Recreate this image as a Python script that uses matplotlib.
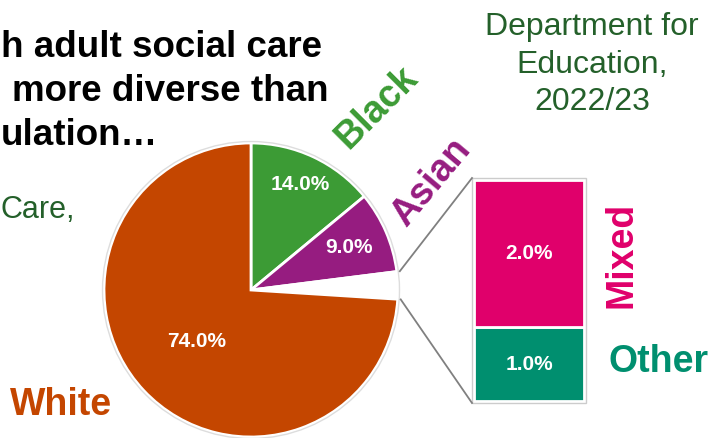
import numpy as np
import matplotlib.pyplot as plt
from matplotlib.patches import Circle

plt.rcParams['font.family'] = ['Liberation Sans', 'DejaVu Sans']

# ethnicity split of the workforce (%)
pie_groups = ['Black', 'Asian', 'Mixed/Other', 'White']
pie_values = [14.0, 9.0, 3.0, 74.0]
bar_groups = ['Other', 'Mixed']
bar_values = [1.0, 2.0]

orange = '#C44600'
green = '#3C9B35'
purple = '#961C80'
pink = '#E0006B'
teal = '#008F6F'
dkgreen = '#24602A'

pie_colors = [green, purple, 'white', orange]
bar_colors = [teal, pink]

fig = plt.figure(figsize=(7.13, 4.38), dpi=100)
ax = fig.add_axes([0, 0, 1, 1])

cx, cy, r = 251, 148, 147
wedges, _ = ax.pie(pie_values, colors=pie_colors, startangle=90, counterclock=False,
                   center=(cx, cy), radius=r,
                   wedgeprops=dict(edgecolor='white', linewidth=2))
ax.add_patch(Circle((cx, cy), r + 1.5, fill=False, edgecolor='#dddddd', lw=1))

# percentage labels inside the slices
dist = [0.79, 0.73, None, 0.51]
start = 90.0
for v, d in zip(pie_values, dist):
    mid = start - v * 3.6 / 2
    start -= v * 3.6
    if d is None:
        continue
    a = np.radians(mid)
    ax.text(cx + d * r * np.cos(a), cy + d * r * np.sin(a), f'{v:.1f}%',
            ha='center', va='center', color='white', fontsize=15, fontweight='bold')

# stacked bar breaking down the small slice
bx, bw, by = 529, 110, 37
scale = 221 / sum(bar_values)
bottom = by
for v, c in zip(bar_values, bar_colors):
    ax.bar(bx, v * scale, bottom=bottom, width=bw, color=c, edgecolor='white', linewidth=2)
    ax.text(bx, bottom + v * scale / 2, f'{v:.1f}%', ha='center', va='center',
            color='white', fontsize=15, fontweight='bold')
    bottom += v * scale
ax.add_patch(plt.Rectangle((bx - bw / 2 - 2, by - 2), bw + 4, bottom - by + 4,
                           fill=False, edgecolor='#cccccc', lw=1))

# connectors from the small slice to the bar
a_top = np.radians(90 - (pie_values[0] + pie_values[1]) * 3.6)
a_bot = np.radians(90 - (pie_values[0] + pie_values[1] + pie_values[2]) * 3.6)
ax.plot([cx + (r + 3) * np.cos(a_top), bx - bw / 2 - 2],
        [cy + (r + 3) * np.sin(a_top), bottom + 2], color='#808080', lw=1.3)
ax.plot([cx + (r + 3) * np.cos(a_bot), bx - bw / 2 - 2],
        [cy + (r + 3) * np.sin(a_bot), by - 2], color='#808080', lw=1.3)

# category labels
ax.text(377, 438 - 108, 'Black', rotation=45, ha='center', va='center',
        color=green, fontsize=27, fontweight='bold')
ax.text(431, 438 - 182, 'Asian', rotation=50, ha='center', va='center',
        color=purple, fontsize=27, fontweight='bold')
ax.text(622, 438 - 255, 'Mixed', rotation=90, ha='center', va='center',
        color=pink, fontsize=27, fontweight='bold')
ax.text(659, 438 - 362, 'Other', ha='center', va='center',
        color=teal, fontsize=27, fontweight='bold')
ax.text(61, 438 - 405, 'White', ha='center', va='center',
        color=orange, fontsize=27, fontweight='bold')

# heading and sources
ax.text(1, 438 - 57, 'h adult social care', ha='left', va='baseline',
        fontsize=26.5, fontweight='bold', color='black')
ax.text(12, 438 - 101, 'more diverse than', ha='left', va='baseline',
        fontsize=26.5, fontweight='bold', color='black')
ax.text(1, 438 - 145, 'ulation…', ha='left', va='baseline',
        fontsize=26.5, fontweight='bold', color='black')
ax.text(1, 438 - 218, 'Care,', ha='left', va='baseline', fontsize=22, color=dkgreen)
ax.text(592, 438 - 35, 'Department for', ha='center', va='baseline', fontsize=23, color=dkgreen)
ax.text(592, 438 - 73, 'Education,', ha='center', va='baseline', fontsize=23, color=dkgreen)
ax.text(592, 438 - 110, '2022/23', ha='center', va='baseline', fontsize=23, color=dkgreen)

ax.set_xlim(0, 713)
ax.set_ylim(0, 438)
ax.set_aspect('equal')
ax.axis('off')

fig.savefig('out.png', dpi=100)
